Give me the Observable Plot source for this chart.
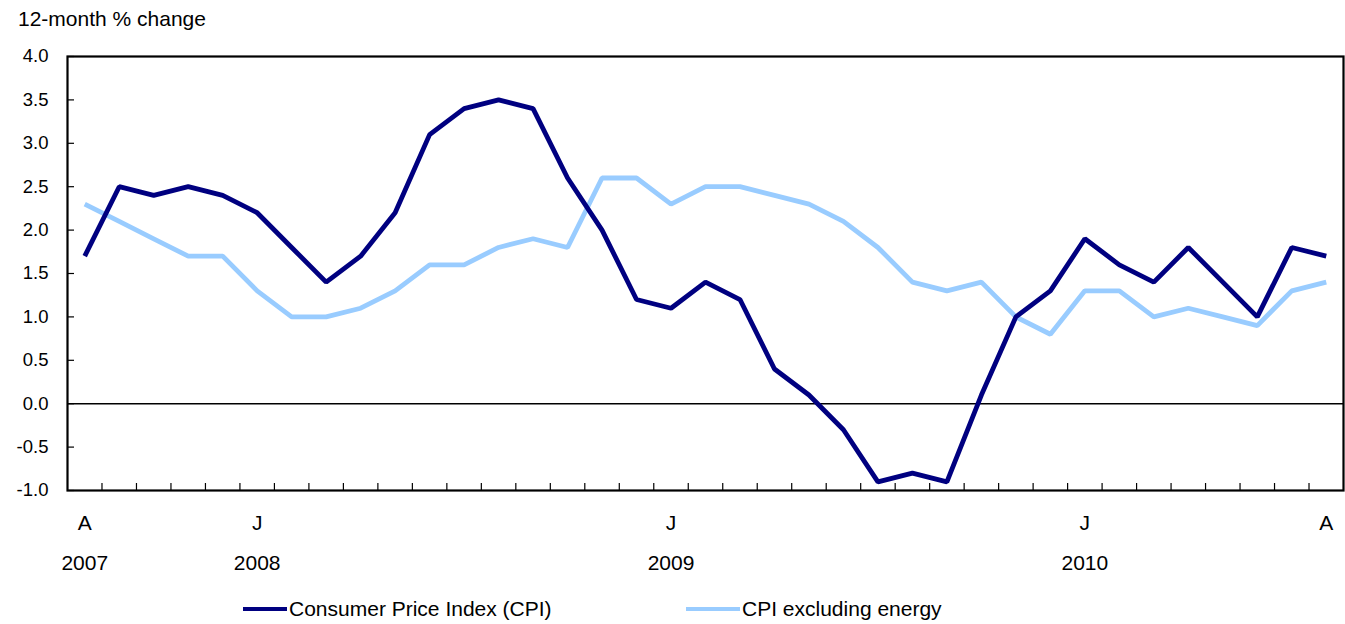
<!DOCTYPE html>
<html>
<head>
<meta charset="utf-8">
<script src="https://cdn.jsdelivr.net/npm/d3@7"></script>
<script src="https://cdn.jsdelivr.net/npm/@observablehq/plot@0.6"></script>
<style>
  html, body { margin: 0; padding: 0; background: #fff; }
  body { font-family: "Liberation Sans", Arial, Helvetica, sans-serif; color: #000; }
  #title { height: 40px; font-size: 21px; padding-left: 18px; line-height: 38px; box-sizing: border-box; }
  #legend { position: relative; height: 39px; font-size: 21px; }
  .item { position: absolute; top: 12px; display: flex; align-items: center; }
  .swatch { display: inline-block; height: 4px; margin-right: 2px; }
</style>
</head>
<body>
<div id="title">12-month % change</div>
<div id="chart"></div>
<div id="legend"></div>
<script>
// Months: August 2007 to August 2010 (index 0..36)
const months = ["2007-08","2007-09","2007-10","2007-11","2007-12",
  "2008-01","2008-02","2008-03","2008-04","2008-05","2008-06","2008-07","2008-08","2008-09","2008-10","2008-11","2008-12",
  "2009-01","2009-02","2009-03","2009-04","2009-05","2009-06","2009-07","2009-08","2009-09","2009-10","2009-11","2009-12",
  "2010-01","2010-02","2010-03","2010-04","2010-05","2010-06","2010-07","2010-08"];

const cpi = [1.7,2.5,2.4,2.5,2.4,
  2.2,1.8,1.4,1.7,2.2,3.1,3.4,3.5,3.4,2.6,2.0,1.2,
  1.1,1.4,1.2,0.4,0.1,-0.3,-0.9,-0.8,-0.9,0.1,1.0,1.3,
  1.9,1.6,1.4,1.8,1.4,1.0,1.8,1.7];

const cpiExEnergy = [2.3,2.1,1.9,1.7,1.7,
  1.3,1.0,1.0,1.1,1.3,1.6,1.6,1.8,1.9,1.8,2.6,2.6,
  2.3,2.5,2.5,2.4,2.3,2.1,1.8,1.4,1.3,1.4,1.0,0.8,
  1.3,1.3,1.0,1.1,1.0,0.9,1.3,1.4];

const seriesNames = ["Consumer Price Index (CPI)", "CPI excluding energy"];
const seriesColors = ["#000080", "#99ccff"];

const yTicks = [-1.0,-0.5,0.0,0.5,1.0,1.5,2.0,2.5,3.0,3.5,4.0];
const monthLabelIdx = [0, 5, 17, 29, 36];
const monthLabels = ["A", "J", "J", "J", "A"];
const yearLabelIdx = [0, 5, 17, 29];
const yearLabels = ["2007", "2008", "2009", "2010"];

const rows = [];
months.forEach((m, i) => {
  rows.push({i, month: m, series: seriesNames[0], value: cpi[i]});
  rows.push({i, month: m, series: seriesNames[1], value: cpiExEnergy[i]});
});

const boundaries = d3.range(0.5, months.length - 1, 1);

const chart = Plot.plot({
  width: 1345,
  height: 545,
  marginTop: 16,
  marginLeft: 67,
  marginRight: 2,
  marginBottom: 95,
  style: {fontFamily: "'Liberation Sans', Arial, Helvetica, sans-serif", fontSize: "18px", color: "#000", background: "#fff"},
  x: {domain: [-0.5, months.length - 0.5]},
  y: {domain: [-1, 4]},
  color: {domain: seriesNames, range: seriesColors},
  marks: [
    Plot.ruleY([0], {stroke: "#000", strokeWidth: 1.6}),
    Plot.line(rows.filter(d => d.series === seriesNames[1]), {x: "i", y: "value", stroke: "series", strokeWidth: 4.8, strokeLinejoin: "miter", strokeLinecap: "butt"}),
    Plot.line(rows.filter(d => d.series === seriesNames[0]), {x: "i", y: "value", stroke: "series", strokeWidth: 4.8, strokeLinejoin: "miter", strokeLinecap: "butt"}),
    Plot.axisY({ticks: yTicks, tickSize: -7, tickFormat: () => "", label: null, strokeWidth: 1.2}),
    Plot.axisY({ticks: yTicks, tickSize: 0, tickPadding: 19, tickFormat: d => d.toFixed(1), label: null, fontSize: 18.5}),
    Plot.axisX({ticks: boundaries, tickSize: -7, tickFormat: () => "", label: null, strokeWidth: 1.2}),
    Plot.axisX({ticks: monthLabelIdx, tickSize: 0, tickPadding: 25, tickFormat: d => monthLabels[monthLabelIdx.indexOf(d)], label: null, fontSize: 21}),
    Plot.axisX({ticks: yearLabelIdx, tickSize: 0, tickPadding: 65, tickFormat: d => yearLabels[yearLabelIdx.indexOf(d)], label: null, fontSize: 21}),
    Plot.frame({stroke: "#000", strokeWidth: 2.2})
  ]
});
document.getElementById("chart").appendChild(chart);

// Legend below the chart
const legend = document.getElementById("legend");
const legendPos = [{left: 243, w: 44}, {left: 686, w: 54}];
seriesNames.forEach((name, k) => {
  const item = document.createElement("div");
  item.className = "item";
  item.style.left = legendPos[k].left + "px";
  const sw = document.createElement("span");
  sw.className = "swatch";
  sw.style.width = legendPos[k].w + "px";
  sw.style.background = seriesColors[k];
  const tx = document.createElement("span");
  tx.textContent = name;
  item.appendChild(sw);
  item.appendChild(tx);
  legend.appendChild(item);
});
</script>
</body>
</html>
